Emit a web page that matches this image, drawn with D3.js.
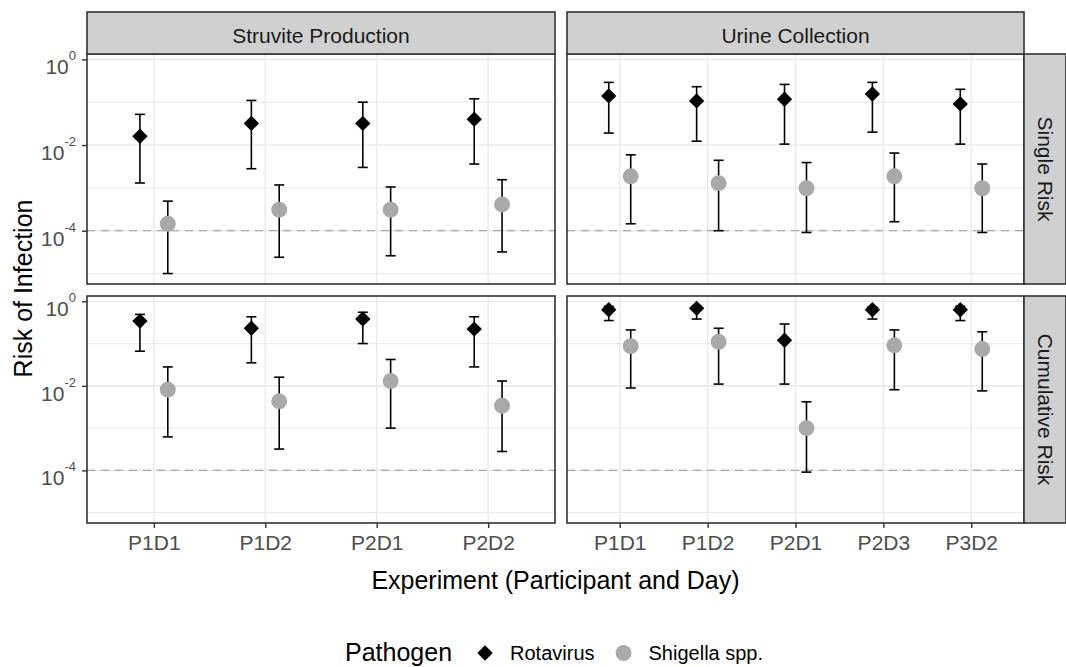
<!DOCTYPE html>
<html>
<head>
<meta charset="utf-8">
<script src="https://cdn.jsdelivr.net/npm/d3@7"></script>
<style>
  body { margin: 0; background: #fff; }
  svg { font-family: Arial, "Liberation Sans", sans-serif; display: block; }
</style>
</head>
<body>
<div id="chart"></div>
<script>
// facet labels
var columns = ["Struvite Production", "Urine Collection"];
var rows = ["Single Risk", "Cumulative Risk"];
var pathogens = ["Rotavirus", "Shigella spp."];

// experiments per column
var struviteExp = ["P1D1", "P1D2", "P2D1", "P2D2"];
var urineExp = ["P1D1", "P1D2", "P2D1", "P2D3", "P3D2"];

// y ticks
var yMajor = [1, 1e-2, 1e-4];
var yMajorExp = ["0", "-2", "-4"];
var yMinor = [1e-1, 1e-3, 1e-5];
var threshold = 1e-4;

// [lower, estimate, upper] for each experiment
var struviteSingleRota = [[0.0013, 0.016, 0.052], [0.0028, 0.032, 0.11], [0.0030, 0.032, 0.10], [0.0036, 0.040, 0.12]];
var struviteSingleShig = [[0.00001, 0.000145, 0.00049], [0.000024, 0.00031, 0.00117], [0.000026, 0.00031, 0.00105], [0.000032, 0.00041, 0.00155]];
var urineSingleRota = [[0.019, 0.14, 0.29], [0.0123, 0.107, 0.23], [0.0105, 0.117, 0.26], [0.020, 0.155, 0.29], [0.0105, 0.091, 0.20]];
var urineSingleShig = [[0.000145, 0.00186, 0.0059], [0.0001, 0.00129, 0.0044], [0.000091, 0.00098, 0.0039], [0.000162, 0.00186, 0.0065], [0.000091, 0.00098, 0.0036]];
var struviteCumRota = [[0.066, 0.34, 0.49], [0.035, 0.23, 0.43], [0.10, 0.38, 0.55], [0.028, 0.22, 0.43]];
var struviteCumShig = [[0.00062, 0.0081, 0.028], [0.00032, 0.0043, 0.016], [0.0010, 0.013, 0.042], [0.00028, 0.0034, 0.013]];
var urineCumRota = [[0.35, 0.63, 0.76], [0.38, 0.68, 0.76], [0.011, 0.12, 0.29], [0.38, 0.63, 0.74], [0.35, 0.63, 0.76]];
var urineCumShig = [[0.0089, 0.087, 0.21], [0.011, 0.11, 0.23], [0.000091, 0.0010, 0.0042], [0.0081, 0.091, 0.21], [0.0076, 0.074, 0.19]];

var w = 1066, h = 667;
var colX = [[87, 555], [567, 1024]];
var rowY = [[54, 284], [296, 523]];
var stripTop = 12, stripW = 42;
var rotaColor = "#000000", shigColor = "#A9A9A9";

var panels = [
  { col: 0, row: 0, exp: struviteExp, series: [struviteSingleRota, struviteSingleShig] },
  { col: 1, row: 0, exp: urineExp, series: [urineSingleRota, urineSingleShig] },
  { col: 0, row: 1, exp: struviteExp, series: [struviteCumRota, struviteCumShig] },
  { col: 1, row: 1, exp: urineExp, series: [urineCumRota, urineCumShig] }
];

// shared log scale, expanded 5% like ggplot
var allVals = d3.merge(panels.map(function(p) { return d3.merge(d3.merge(p.series)); }));
var lg0 = Math.log10(d3.min(allVals)), lg1 = Math.log10(d3.max(allVals));
var pad = (lg1 - lg0) * 0.05;
var yDomain = [Math.pow(10, lg0 - pad), Math.pow(10, lg1 + pad)];

var svg = d3.select("#chart").append("svg")
  .attr("width", w)
  .attr("height", h)
  .style("background", "#FFFFFF");

var diamond = d3.symbol().type(d3.symbolSquare).size(118);
var circle = d3.symbol().type(d3.symbolCircle).size(200);

panels.forEach(function(p) {
  var x0 = colX[p.col][0], x1 = colX[p.col][1];
  var y0 = rowY[p.row][0], y1 = rowY[p.row][1];
  var x = d3.scalePoint().domain(p.exp).range([x0, x1]).padding(0.6);
  var y = d3.scaleLog().domain(yDomain).range([y1, y0]);
  var step = x.step();

  var g = svg.append("g");

  // grid
  g.selectAll(".minor").data(yMinor).enter().append("line")
    .attr("x1", x0).attr("x2", x1)
    .attr("y1", function(d) { return y(d); }).attr("y2", function(d) { return y(d); })
    .attr("stroke", "#EBEBEB").attr("stroke-width", 1.2);
  g.selectAll(".major").data(yMajor).enter().append("line")
    .attr("x1", x0).attr("x2", x1)
    .attr("y1", function(d) { return y(d); }).attr("y2", function(d) { return y(d); })
    .attr("stroke", "#EBEBEB").attr("stroke-width", 1.6);
  g.selectAll(".vgrid").data(p.exp).enter().append("line")
    .attr("x1", function(d) { return x(d); }).attr("x2", function(d) { return x(d); })
    .attr("y1", y0).attr("y2", y1)
    .attr("stroke", "#EBEBEB").attr("stroke-width", 1.6);

  // threshold line
  g.append("line")
    .attr("x1", x0).attr("x2", x1)
    .attr("y1", y(threshold)).attr("y2", y(threshold))
    .attr("stroke", "#AAAAAA").attr("stroke-width", 1.2)
    .attr("stroke-dasharray", "8,6");

  // error bars and points
  p.series.forEach(function(vals, si) {
    var off = (si === 0 ? -0.125 : 0.125) * step;
    var gs = g.selectAll(".s" + si).data(vals).enter().append("g");
    gs.append("line")
      .attr("x1", function(d, i) { return x(p.exp[i]) + off; })
      .attr("x2", function(d, i) { return x(p.exp[i]) + off; })
      .attr("y1", function(d) { return y(d[0]); })
      .attr("y2", function(d) { return y(d[2]); })
      .attr("stroke", "#000").attr("stroke-width", 1.6);
    [0, 2].forEach(function(k) {
      gs.append("line")
        .attr("x1", function(d, i) { return x(p.exp[i]) + off - 5; })
        .attr("x2", function(d, i) { return x(p.exp[i]) + off + 5; })
        .attr("y1", function(d) { return y(d[k]); })
        .attr("y2", function(d) { return y(d[k]); })
        .attr("stroke", "#000").attr("stroke-width", 1.6);
    });
    gs.append("path")
      .attr("d", si === 0 ? diamond : circle)
      .attr("fill", si === 0 ? rotaColor : shigColor)
      .attr("transform", function(d, i) {
        return "translate(" + (x(p.exp[i]) + off) + "," + y(d[1]) + ")" + (si === 0 ? " rotate(45)" : "");
      });
  });

  // panel border
  g.append("rect")
    .attr("x", x0).attr("y", y0)
    .attr("width", x1 - x0).attr("height", y1 - y0)
    .attr("fill", "none").attr("stroke", "#333333").attr("stroke-width", 1.6);

  // y axis on left column
  if (p.col === 0) {
    var ya = svg.append("g")
      .attr("transform", "translate(" + x0 + ",0)")
      .call(d3.axisLeft(y).tickValues(yMajor).tickSize(5).tickFormat(""));
    ya.select(".domain").remove();
    ya.selectAll(".tick line").attr("stroke", "#333333").attr("stroke-width", 1.4);
    yMajor.forEach(function(v, i) {
      var t = svg.append("text")
        .attr("x", x0 - 11)
        .attr("y", y(v) + 15)
        .attr("text-anchor", "end")
        .attr("fill", "#4D4D4D")
        .style("font-size", "21px");
      t.append("tspan").text("10");
      t.append("tspan").attr("dy", -14).style("font-size", "13px").text(yMajorExp[i]);
    });
  }

  // x axis on bottom row
  if (p.row === 1) {
    var xa = svg.append("g")
      .attr("transform", "translate(0," + y1 + ")")
      .call(d3.axisBottom(x).tickSize(5).tickPadding(7));
    xa.select(".domain").remove();
    xa.selectAll(".tick line").attr("stroke", "#333333").attr("stroke-width", 1.4);
    xa.selectAll(".tick text")
      .attr("fill", "#4D4D4D")
      .style("font-size", "21px")
      .style("font-family", "Arial, 'Liberation Sans', sans-serif");
  }

  // top strips
  if (p.row === 0) {
    svg.append("rect")
      .attr("x", x0).attr("y", stripTop)
      .attr("width", x1 - x0).attr("height", y0 - stripTop)
      .attr("fill", "#D0D0D0").attr("stroke", "#333333").attr("stroke-width", 1.6);
    svg.append("text")
      .attr("x", (x0 + x1) / 2).attr("y", y0 - 11.5)
      .attr("text-anchor", "middle")
      .attr("fill", "#1A1A1A")
      .style("font-size", "21px")
      .text(columns[p.col]);
  }

  // right strips
  if (p.col === 1) {
    svg.append("rect")
      .attr("x", x1).attr("y", y0)
      .attr("width", stripW).attr("height", y1 - y0)
      .attr("fill", "#D0D0D0").attr("stroke", "#333333").attr("stroke-width", 1.6);
    svg.append("text")
      .attr("transform", "translate(" + (x1 + 13.5) + "," + ((y0 + y1) / 2) + ") rotate(90)")
      .attr("text-anchor", "middle")
      .attr("fill", "#1A1A1A")
      .style("font-size", "21px")
      .text(rows[p.row]);
  }
});

// axis titles
svg.append("text")
  .attr("x", (colX[0][0] + colX[1][1]) / 2)
  .attr("y", 589)
  .attr("text-anchor", "middle")
  .attr("fill", "#000")
  .style("font-size", "25px")
  .text("Experiment (Participant and Day)");

svg.append("text")
  .attr("transform", "translate(32," + ((rowY[0][0] + rowY[1][1]) / 2) + ") rotate(-90)")
  .attr("text-anchor", "middle")
  .attr("fill", "#000")
  .style("font-size", "25px")
  .text("Risk of Infection");

// legend
var leg = svg.append("g").attr("transform", "translate(345,653)");
var lt = leg.append("text").attr("x", 0).attr("y", 8).style("font-size", "25px").attr("fill", "#000").text("Pathogen");
var cx = lt.node().getComputedTextLength() + 33;
pathogens.forEach(function(name, i) {
  leg.append("path")
    .attr("d", i === 0 ? diamond : circle)
    .attr("fill", i === 0 ? rotaColor : shigColor)
    .attr("transform", "translate(" + cx + ",0)" + (i === 0 ? " rotate(45)" : ""));
  var tx = leg.append("text")
    .attr("x", cx + 25).attr("y", 7)
    .style("font-size", "20px").attr("fill", "#000")
    .text(name);
  cx += 25 + tx.node().getComputedTextLength() + 29;
});
</script>
</body>
</html>
